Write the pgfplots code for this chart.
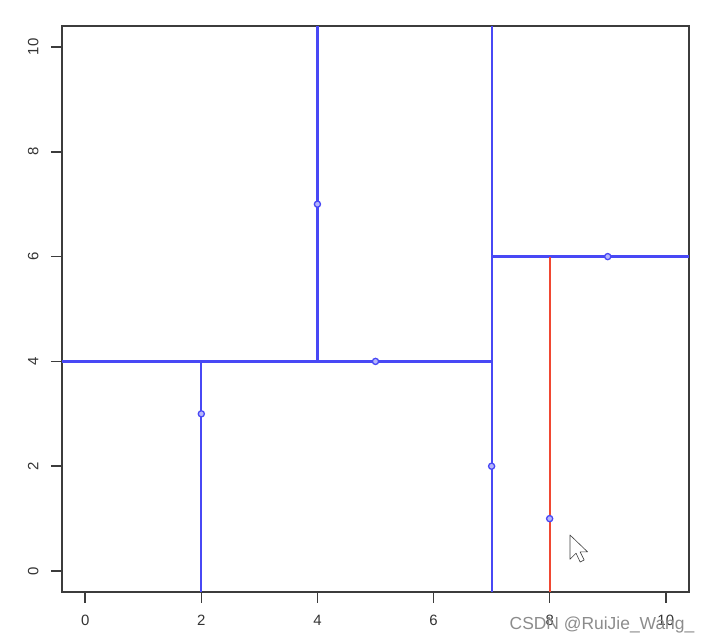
\documentclass[border=0pt]{standalone}
\usepackage{pgfplots}
\pgfplotsset{compat=1.18}
\usepackage{fontspec}
\setmainfont{Liberation Sans}
\definecolor{rblue}{RGB}{72,72,245}
\definecolor{rred}{RGB}{240,72,50}
\definecolor{framec}{RGB}{60,60,60}
\begin{document}
\begin{tikzpicture}
\begin{axis}[
  scale only axis,
  width=627bp, height=566bp,
  xmin=-0.4, xmax=10.4, ymin=-0.4, ymax=10.4,
  xtick={0,2,...,10}, ytick={0,2,...,10},
  tick align=outside, major tick length=11bp,
  tick style={color=framec, line width=1.5pt},
  axis line style={color=framec, line width=1.6pt},
  xtick pos=bottom, ytick pos=left,
  /pgf/number format/assume math mode=true,
  ticklabel style={font=\fontsize{15}{17}\selectfont, text=framec!85!black},
  yticklabel style={rotate=90, anchor=south},
  yticklabel shift=9bp,
  xticklabel shift=9bp,
  clip=false,
]
\addplot[color=rblue, line width=2.2pt] coordinates {(-0.4,4) (7,4)};
\addplot[color=rblue, line width=2.2pt] coordinates {(2,-0.4) (2,4)};
\addplot[color=rblue, line width=2.2pt] coordinates {(4,4) (4,10.4)};
\addplot[color=rblue, line width=2.2pt] coordinates {(7,-0.4) (7,10.4)};
\addplot[color=rblue, line width=2.2pt] coordinates {(7,6) (10.4,6)};
\addplot[color=rred, line width=2.2pt] coordinates {(8,-0.4) (8,6)};
\addplot[only marks, mark=*, mark size=3.1pt,
  mark options={draw=rblue, fill=rblue!40, line width=1.3pt}]
  coordinates {(2,3) (4,7) (5,4) (7,2) (8,1) (9,6)};
\end{axis}
% mouse cursor
\begin{scope}[shift={([xshift=508bp,yshift=57bp]current axis.south west)}, scale=1.35]
\draw[fill=white, draw=black!75, line width=0.6pt, line join=round]
  (0,0) -- (0,-18bp) -- (4.5bp,-13.5bp) -- (7.5bp,-20bp) -- (10.5bp,-18.5bp) -- (7.5bp,-12.5bp) -- (13bp,-12.5bp) -- cycle;
\end{scope}
\node[text=black!45, font=\fontsize{17.5}{19}\selectfont, anchor=center]
  at ([xshift=540bp,yshift=-33bp]current axis.south west) {CSDN @RuiJie\_Wang\_};
\pgfresetboundingbox
\path ([xshift=-62bp,yshift=-51bp]current axis.south west) rectangle ([xshift=19bp,yshift=26bp]current axis.north east);
\end{tikzpicture}
\end{document}
